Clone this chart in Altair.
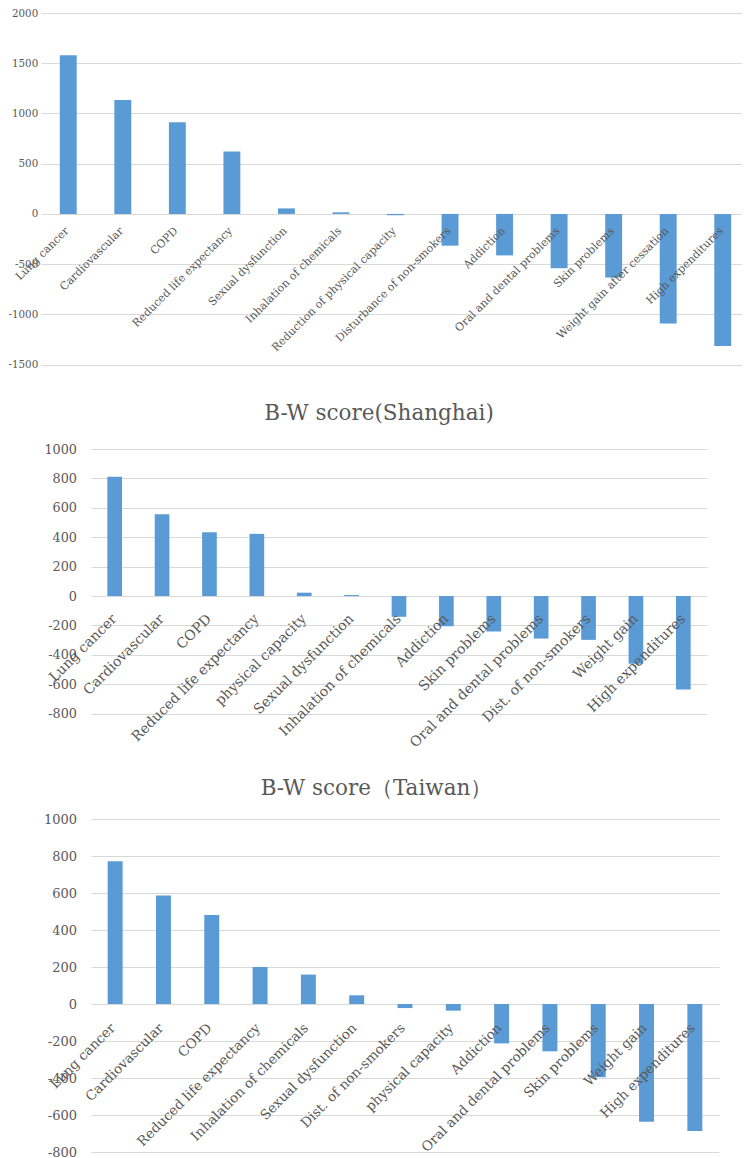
import altair as alt
import pandas as pd

# ---- data ----
cats1 = ["Lung cancer", "Cardiovascular", "COPD", "Reduced life expectancy",
         "Sexual dysfunction", "Inhalation of chemicals", "Reduction of physical capacity",
         "Disturbance of non-smokers", "Addiction", "Oral and dental problems",
         "Skin problems", "Weight gain after cessation", "High expenditures"]
vals1 = [1580, 1135, 913, 622, 55, 16, -13, -316, -413, -540, -632, -1090, -1316]
ticks1 = [-1500, -1000, -500, 0, 500, 1000, 1500, 2000]

title2 = "B-W score(Shanghai)"
cats2 = ["Lung cancer", "Cardiovascular", "COPD", "Reduced life expectancy",
         "physical capacity", "Sexual dysfunction", "Inhalation of chemicals",
         "Addiction", "Skin problems", "Oral and dental problems",
         "Dist. of non-smokers", "Weight gain", "High expenditures"]
vals2 = [811, 557, 434, 423, 23, 7, -141, -205, -241, -289, -298, -461, -636]
ticks2 = [-800, -600, -400, -200, 0, 200, 400, 600, 800, 1000]

title3 = "B-W score（Taiwan）"
cats3 = ["Lung cancer", "Cardiovascular", "COPD", "Reduced life expectancy",
         "Inhalation of chemicals", "Sexual dysfunction", "Dist. of non-smokers",
         "physical capacity", "Addiction", "Oral and dental problems",
         "Skin problems", "Weight gain", "High expenditures"]
vals3 = [771, 586, 481, 200, 159, 47, -22, -36, -213, -256, -396, -636, -686]
ticks3 = [-800, -600, -400, -200, 0, 200, 400, 600, 800, 1000]

FONT = "DejaVu Serif"
GRAY = "#595959"
GRID = "#D9D9D9"
BLUE = "#5B9BD5"


def panel(cats, vals, ticks, width, height, xrange, yfs, xfs, lab_pad, ax_off,
          xoff, yoff, title=None):
    df = pd.DataFrame({"item": cats, "score": vals})
    if xrange is not None:
        xscale = alt.Scale(paddingInner=0.69, paddingOuter=0.345, range=xrange)
    else:
        xscale = alt.Scale(paddingInner=0.69, paddingOuter=0.345)
    xenc = alt.X("item:N", sort=cats, scale=xscale, axis=None)
    yscale = alt.Scale(domain=[ticks[0], ticks[-1]], nice=False, zero=False)
    yaxis = alt.Axis(values=ticks, tickCount=len(ticks) + 2, grid=True,
                     gridColor=GRID, gridWidth=1,
                     domain=False, ticks=False, labelFont=FONT,
                     labelFontSize=yfs, labelColor=GRAY, labelOverlap=False,
                     labelPadding=lab_pad, offset=ax_off,
                     labelExpr="'' + datum.value")
    base = alt.Chart(df).transform_calculate(base="0")
    bars = base.mark_bar(color=BLUE).encode(
        x=xenc,
        y=alt.Y("score:Q", title=None, scale=yscale, axis=yaxis),
    )
    labels = base.mark_text(
        angle=315, align="right", baseline="middle", font=FONT,
        fontSize=xfs, color=GRAY, xOffset=xoff, yOffset=yoff,
    ).encode(
        x=xenc,
        y=alt.Y("base:Q", title=None, scale=yscale, axis=yaxis),
        text="item:N",
    )
    ch = alt.layer(bars, labels).properties(width=width, height=height)
    if title is not None:
        ch = ch.properties(title=title)
    return ch


def spacer(h):
    return alt.Chart(pd.DataFrame({"s": [0]})).mark_point(opacity=0).encode(
        x=alt.value(0), y=alt.value(0)
    ).properties(width=1, height=h)


def ttl(text, dx, dy):
    return alt.TitleParams(text=text, font=FONT, fontSize=21.5, fontWeight="normal",
                           color=GRAY, anchor="middle", frame="group",
                           baseline="alphabetic", offset=0, dx=dx, dy=dy)


p1 = panel(cats1, vals1, ticks1, 709, 351.6, None, 10.3, 11, 3.3, 0, -1, 15.5)
p2 = panel(cats2, vals2, ticks2, 666, 264.7, [50, 666], 12.8, 14, 14.5, -50,
           0, 20.8, title=ttl(title2, 5, -1.6))
p3 = panel(cats3, vals3, ticks3, 678, 333, [50, 678], 13, 13.5, 14.5, -50,
           -2, 22.0, title=ttl(title3, -3.5, 3.4))

chart = alt.vconcat(
    p1, spacer(83.8), p2, spacer(104.3), p3,
    spacing=0, bounds="flush",
).properties(
    padding={"left": 0, "top": 0, "right": -8, "bottom": 0}
).configure_view(strokeWidth=0)

chart.save("out.html", embed_options={"renderer": "svg", "actions": False})
